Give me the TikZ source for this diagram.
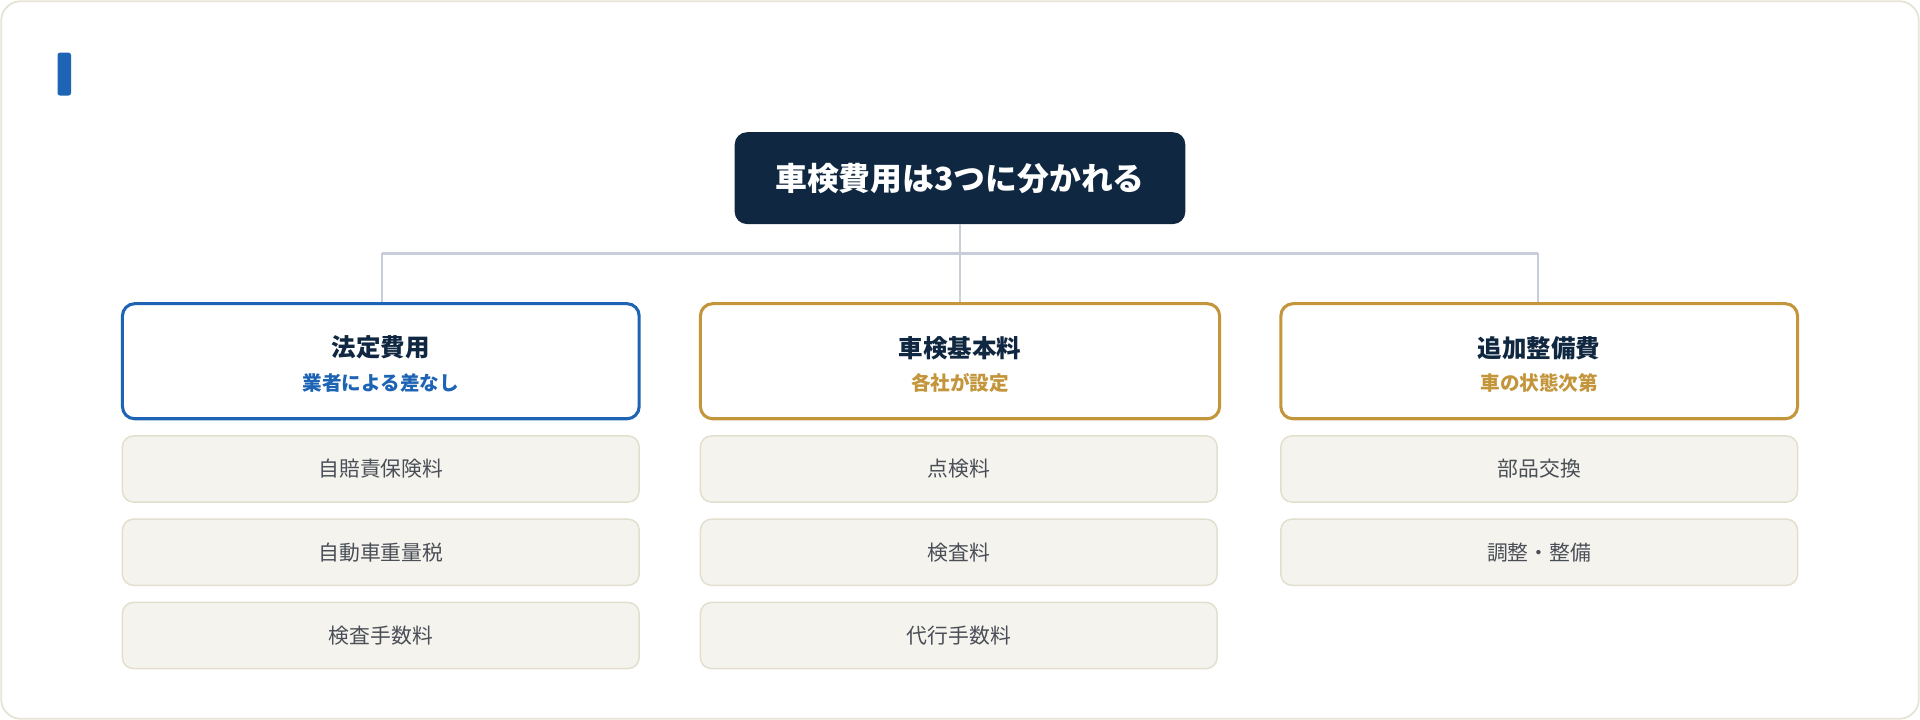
\documentclass[tikz,border=0pt]{standalone}
\usepackage{fontspec}
\setmainfont{Noto Sans CJK JP}
\newfontfamily\jpb{Noto Sans CJK JP}[FakeBold=0]
\definecolor{navy}{HTML}{0F2740}
\definecolor{blu}{HTML}{1E64B4}
\definecolor{gold}{HTML}{C4963C}
\definecolor{lin}{HTML}{C8CED8}
\definecolor{itf}{HTML}{F5F3ED}
\definecolor{itd}{HTML}{E2DFCF}
\definecolor{itx}{HTML}{4A4F57}
\definecolor{frm}{HTML}{E6E4D6}
\begin{document}
\begin{tikzpicture}[x=1pt,y=-1pt,
 cat/.style={draw=#1,line width=2.5pt,rounded corners=10pt,fill=white},
 item/.style={draw=itd,line width=1.2pt,rounded corners=9pt,fill=itf},
 itxt/.style={text=itx,font=\fontsize{17}{20}\selectfont},
 ttl/.style={text=navy,font=\fontsize{20}{24}\selectfont\bfseries},
 sub/.style={text=#1,font=\fontsize{16}{19}\selectfont\bfseries},
 conn/.style={draw=lin,line width=2pt}]
\useasboundingbox (0,0) rectangle (1568,588);
\draw[draw=frm,line width=1.5pt,rounded corners=16pt,fill=white] (1,1) rectangle (1567,587);
\fill[blu,rounded corners=2pt] (47,43) rectangle (58,78);
\fill[navy,rounded corners=10pt] (600,108) rectangle (968,183);
\node[text=white,font=\fontsize{26}{30}\selectfont\bfseries] (root) at (784,146) {車検費用は3つに分かれる};
\coordinate (rb) at (784,183);
\coordinate (j) at (784,207);
\coordinate (jl) at (312,207);
\coordinate (jr) at (1256,207);
\coordinate (c1) at (312,248);
\coordinate (c2) at (784,248);
\coordinate (c3) at (1256,248);
\draw[conn] (rb) -- (j);
\draw[conn] (jl) -- (jr);
\draw[conn] (jl) -- (c1);
\draw[conn] (j) -- (c2);
\draw[conn] (jr) -- (c3);
\draw[cat=blu] (100,248) rectangle (522,342);
\draw[cat=gold] (572,248) rectangle (996,342);
\draw[cat=gold] (1046,248) rectangle (1468,342);
\node[ttl] (t1) at (311,284) {法定費用};
\node[sub=blu] (s1) at (311,313) {業者による差なし};
\node[ttl] (t2) at (784,284) {車検基本料};
\node[sub=gold] (s2) at (784,313) {各社が設定};
\node[ttl] (t3) at (1257,284) {追加整備費};
\node[sub=gold] (s3) at (1257,313) {車の状態次第};
\foreach \x/\y/\t/\n in {100/356/自賠責保険料/a1,100/424/自動車重量税/a2,100/492/検査手数料/a3,
  572/356/点検料/b1,572/424/検査料/b2,572/492/代行手数料/b3,
  1046/356/部品交換/c1,1046/424/調整・整備/c2}{
 \draw[item] (\x,\y) rectangle ({\x+422},{\y+54});
 \node[itxt] (i\n) at ({\x+211},{\y+27}) {\t};
}
\end{tikzpicture}
\end{document}
